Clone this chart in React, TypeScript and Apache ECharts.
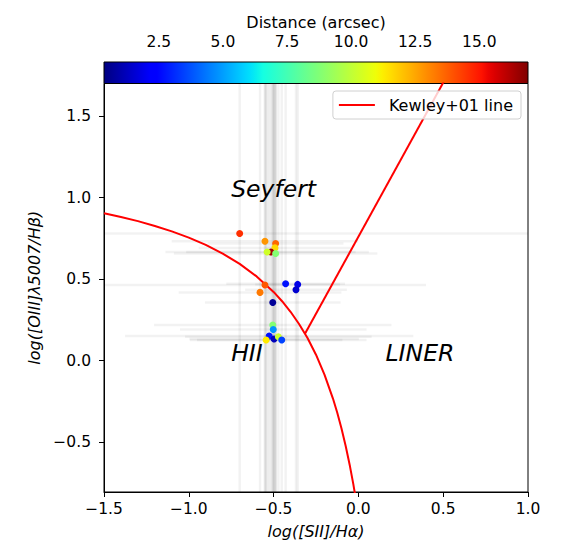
import React, { useEffect, useRef } from "react";
import * as echarts from "echarts";

// ---------- data ----------
const POINT_X = [-0.700, -0.551, -0.488, -0.492, -0.516, -0.538, -0.488, -0.551, -0.580, -0.429, -0.358, -0.368, -0.505, -0.505, -0.502, -0.526, -0.497, -0.472, -0.452, -0.544];
const POINT_Y = [0.780, 0.733, 0.719, 0.692, 0.667, 0.667, 0.658, 0.464, 0.419, 0.472, 0.468, 0.435, 0.357, 0.219, 0.192, 0.151, 0.133, 0.147, 0.127, 0.127];
const POINT_DIST = [14.6, 12.8, 13.6, 11.6, 16.4, 10.3, 8.8, 13.9, 13.3, 2.7, 1.85, 1.5, 0.7, 8.8, 4.8, 2.7, 1.2, 10.2, 3.5, 11.3];
const POINT_XERR = [2.0, 0.55, 0.4, 0.45, 0.5, 0.6, 0.6, 0.95, 0.48, 0.35, 0.25, 0.3, 0.4, 0.7, 0.55, 0.85, 0.5, 0.55, 0.5, 0.45];
const POINT_YERR = [3, 3, 3, 3, 3, 3, 3, 3, 3, 3, 3, 3, 3, 3, 3, 3, 3, 3, 3, 3];

const KEWLEY_CURVE_X = [-1.5, -1.4, -1.3, -1.2, -1.1, -1.0, -0.9, -0.8, -0.7, -0.6, -0.5, -0.45, -0.4, -0.35, -0.3, -0.25, -0.2, -0.15, -0.125, -0.1, -0.075, -0.05, -0.03, -0.02];
const KEWLEY_CURVE_Y = [0.904, 0.881, 0.856, 0.826, 0.793, 0.755, 0.710, 0.657, 0.594, 0.517, 0.422, 0.365, 0.300, 0.225, 0.139, 0.037, -0.085, -0.232, -0.318, -0.414, -0.523, -0.646, -0.757, -0.818];
const KEWLEY_LINE_X = [-0.315, 0.55];
const KEWLEY_LINE_Y = [0.165, 1.80];

const REGION_LABELS = ["Seyfert", "HII", "LINER"];
const REGION_X = [-0.75, -0.75, 0.16];
const REGION_Y = [1.0, 0.0, 0.0];

const X_TICKS = [-1.5, -1.0, -0.5, 0.0, 0.5, 1.0];
const Y_TICKS = [-0.5, 0.0, 0.5, 1.0, 1.5];
const CB_TICKS = [2.5, 5.0, 7.5, 10.0, 12.5, 15.0];

const X_MIN = -1.5, X_MAX = 1.0, Y_MIN = -0.805, Y_MAX = 1.7;
const CB_MIN = 0.36, CB_MAX = 16.9;

// ---------- helpers ----------
function jet(t: number): string {
  t = Math.max(0, Math.min(1, t));
  const interp = (pts: number[][]) => {
    for (let i = 0; i < pts.length - 1; i++) {
      const [x0, y0] = pts[i];
      const [x1, y1] = pts[i + 1];
      if (t >= x0 && t <= x1) return y0 + ((y1 - y0) * (t - x0)) / (x1 - x0);
    }
    return pts[pts.length - 1][1];
  };
  const r = interp([[0, 0], [0.35, 0], [0.66, 1], [0.89, 1], [1, 0.5]]);
  const g = interp([[0, 0], [0.125, 0], [0.375, 1], [0.64, 1], [0.91, 0], [1, 0]]);
  const b = interp([[0, 0.5], [0.11, 1], [0.34, 1], [0.65, 0], [1, 0]]);
  return `rgb(${Math.round(r * 255)},${Math.round(g * 255)},${Math.round(b * 255)})`;
}
const distColor = (d: number) => jet((d - CB_MIN) / (CB_MAX - CB_MIN));
const fmt = (v: number) => v.toFixed(1).replace("-", "\u2212");
const FONT = '"DejaVu Sans", "Noto Sans", sans-serif';

export default function App() {
  const ref = useRef<HTMLDivElement>(null);
  useEffect(() => {
    if (!ref.current) return;
    const chart = echarts.init(ref.current, undefined, { renderer: "svg" });

    const scatterData = POINT_X.map((x, i) => [x, POINT_Y[i], POINT_DIST[i]]);
    const errData = POINT_X.map((x, i) => [x, POINT_Y[i], POINT_XERR[i], POINT_YERR[i]]);
    const curveData = KEWLEY_CURVE_X.map((x, i) => [x, KEWLEY_CURVE_Y[i]]);
    const lineData = KEWLEY_LINE_X.map((x, i) => [x, KEWLEY_LINE_Y[i]]);
    const labelData = REGION_X.map((x, i) => [x, REGION_Y[i]]);

    const stops: { offset: number; color: string }[] = [];
    for (let i = 0; i <= 64; i++) stops.push({ offset: i / 64, color: jet(i / 64) });

    const clampX = (v: number) => Math.max(X_MIN, Math.min(X_MAX, v));
    const clampY = (v: number) => Math.max(Y_MIN, Math.min(Y_MAX, v));
    const ERR_STYLE = { stroke: "rgba(0,0,0,0.05)", lineWidth: 2.5 };
    const LABEL_FS = 23.5;

    const tickLabelStyle = { color: "#000", fontSize: 15.5, fontFamily: FONT };
    const nameStyle = { color: "#000", fontSize: 16, fontFamily: FONT, fontStyle: "italic" as const };

    chart.setOption({
      animation: false,
      backgroundColor: "#fff",
      grid: [
        { left: 104, right: 35, top: 83.5, bottom: 53, show: true, borderColor: "#000", borderWidth: 1, backgroundColor: "transparent" },
        { left: 104, right: 35, top: 62, height: 21.5, show: false },
      ],
      legend: {
        data: ["Kewley+01 line"],
        right: 42,
        top: 91,
        padding: [6, 8, 6, 6],
        icon: "rect",
        itemWidth: 36,
        itemHeight: 2,
        borderColor: "#d0d0d0",
        borderWidth: 1,
        borderRadius: 3,
        backgroundColor: "rgba(255,255,255,0.8)",
        textStyle: { color: "#000", fontSize: 16, fontFamily: FONT, padding: [0, 0, 0, 9] },
      },
      xAxis: [
        {
          type: "value", gridIndex: 0, min: X_MIN, max: X_MAX, interval: 0.5,
          name: "log([SII]/H\u03b1)", nameLocation: "middle", nameGap: 31, nameTextStyle: nameStyle,
          axisLine: { show: true, onZero: false, lineStyle: { color: "#000", width: 1 } },
          axisTick: { show: true, inside: false, length: 5, lineStyle: { color: "#000" }, customValues: X_TICKS },
          axisLabel: { ...tickLabelStyle, margin: 9, formatter: fmt, customValues: X_TICKS },
          splitLine: { show: false },
        },
        {
          type: "value", gridIndex: 1, min: CB_MIN, max: CB_MAX, position: "top",
          name: "Distance (arcsec)", nameLocation: "middle", nameGap: 32,
          nameTextStyle: { color: "#000", fontSize: 16, fontFamily: FONT },
          axisLine: { show: false },
          axisTick: { show: true, inside: false, length: 5, lineStyle: { color: "#000" }, customValues: CB_TICKS },
          axisLabel: { ...tickLabelStyle, margin: 12, formatter: fmt, customValues: CB_TICKS },
          splitLine: { show: false },
        },
      ],
      yAxis: [
        {
          type: "value", gridIndex: 0, min: Y_MIN, max: Y_MAX,
          name: "log([OIII]\u03bb5007/H\u03b2)", nameLocation: "middle", nameGap: 62, nameTextStyle: nameStyle,
          axisLine: { show: true, onZero: false, lineStyle: { color: "#000", width: 1 } },
          axisTick: { show: true, inside: false, length: 5, lineStyle: { color: "#000" }, customValues: Y_TICKS },
          axisLabel: { ...tickLabelStyle, margin: 13, formatter: fmt, customValues: Y_TICKS },
          splitLine: { show: false },
        },
        { type: "value", gridIndex: 1, min: 0, max: 1, show: false },
      ],
      series: [
        {
          type: "custom", name: "errors", xAxisIndex: 0, yAxisIndex: 0, silent: true, z: 1,
          data: errData,
          renderItem: (params: any, api: any) => {
            const x = api.value(0), y = api.value(1), xe = api.value(2), ye = api.value(3);
            const h0 = api.coord([clampX(x - xe), y]);
            const h1 = api.coord([clampX(x + xe), y]);
            const v0 = api.coord([x, clampY(y - ye)]);
            const v1 = api.coord([x, clampY(y + ye)]);
            return {
              type: "group",
              children: [
                { type: "line", shape: { x1: h0[0], y1: h0[1], x2: h1[0], y2: h1[1] }, style: ERR_STYLE },
                { type: "line", shape: { x1: v0[0], y1: v0[1], x2: v1[0], y2: v1[1] }, style: ERR_STYLE },
              ],
            };
          },
        },
        {
          type: "line", name: "Kewley+01 line", xAxisIndex: 0, yAxisIndex: 0, data: curveData,
          symbol: "none", lineStyle: { color: "#ff0000", width: 2 }, itemStyle: { color: "#ff0000" }, z: 3, clip: true,
        },
        {
          type: "line", name: "Kewley+01 line", xAxisIndex: 0, yAxisIndex: 0, data: lineData,
          symbol: "none", lineStyle: { color: "#ff0000", width: 2 }, itemStyle: { color: "#ff0000" }, z: 3, clip: true,
        },
        {
          type: "scatter", name: "points", xAxisIndex: 0, yAxisIndex: 0, data: scatterData,
          symbolSize: 7, z: 4,
          itemStyle: { color: (p: any) => distColor(p.value[2]), opacity: 1 },
        },
        {
          type: "custom", name: "regions", xAxisIndex: 0, yAxisIndex: 0, silent: true, z: 5,
          data: labelData,
          renderItem: (params: any, api: any) => {
            const c = api.coord([api.value(0), api.value(1)]);
            return {
              type: "text",
              style: {
                text: REGION_LABELS[params.dataIndex],
                x: c[0], y: c[1] - 0.35 * LABEL_FS,
                font: `italic ${LABEL_FS}px ${FONT}`,
                fill: "#000", align: "left", verticalAlign: "middle",
              },
            };
          },
        },
        {
          type: "custom", name: "colorbar", xAxisIndex: 1, yAxisIndex: 1, silent: true,
          data: [[CB_MIN, 0]],
          renderItem: (params: any, api: any) => {
            const p0 = api.coord([CB_MIN, 1]);
            const p1 = api.coord([CB_MAX, 0]);
            return {
              type: "rect",
              shape: { x: p0[0], y: p0[1], width: p1[0] - p0[0], height: p1[1] - p0[1] },
              style: { fill: new echarts.graphic.LinearGradient(0, 0, 1, 0, stops), stroke: "#000", lineWidth: 1 },
            };
          },
        },
      ],
    });
    return () => chart.dispose();
  }, []);
  return <div ref={ref} style={{ position: "fixed", left: 0, top: 0, width: 563, height: 545 }} />;
}
